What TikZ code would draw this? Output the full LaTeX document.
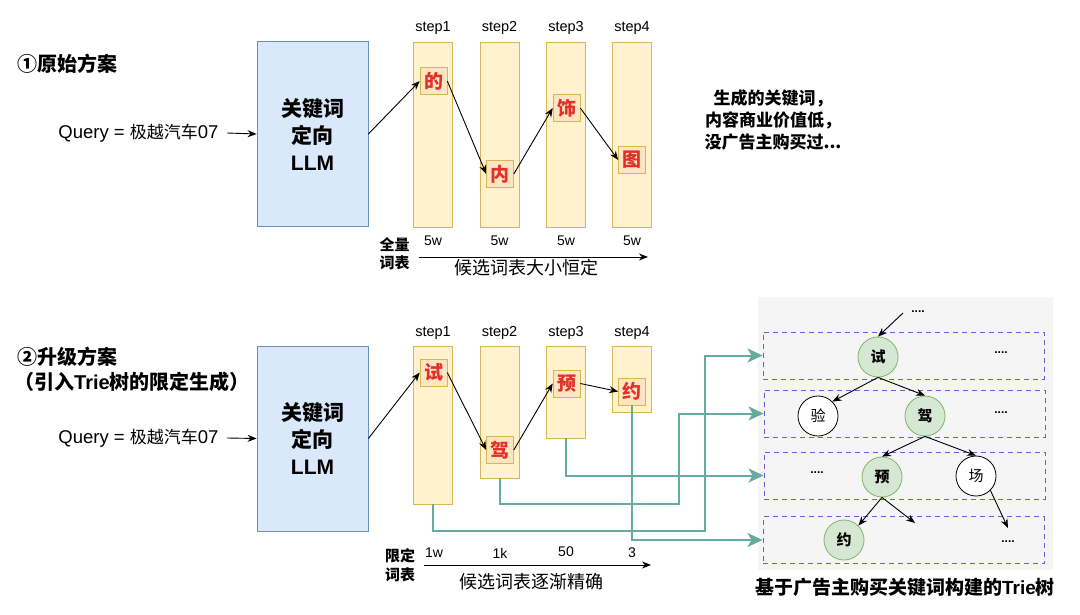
\documentclass[tikz,border=0pt]{standalone}
\usepackage{fontspec}
\setmainfont{Liberation Sans}
\newfontfamily\cjk{Noto Sans CJK SC}
\usetikzlibrary{arrows.meta}
\definecolor{llmfill}{HTML}{DAE8FC}
\definecolor{llmdraw}{HTML}{6C8EBF}
\definecolor{colfill}{HTML}{FFF2CC}
\definecolor{coldraw}{HTML}{D6B656}
\definecolor{chfill}{HTML}{FCE6C2}
\definecolor{chred}{HTML}{E2302A}
\definecolor{gline}{HTML}{67AB9F}
\definecolor{tgfill}{HTML}{D5E8D4}
\definecolor{tgdraw}{HTML}{82B366}
\definecolor{panel}{HTML}{F5F5F5}
\definecolor{rowdash}{HTML}{6A5FD8}
\newcommand\fsz[2]{\fontsize{#1}{#2}\selectfont}
\begin{document}
\begin{tikzpicture}[x=1pt,y=-1pt,
  llm/.style={draw=llmdraw,fill=llmfill,line width=0.8pt,minimum width=111pt,minimum height=185pt,align=center,font=\cjk\bfseries\fsz{21}{27}},
  col/.style={draw=coldraw,fill=colfill,line width=0.8pt,minimum width=39pt,inner sep=0pt},
  chbox/.style={draw=coldraw,fill=chfill,line width=0.6pt,minimum size=27pt,inner sep=0pt,text=chred,font=\cjk\bfseries\fsz{19}{20}},
  steplab/.style={font=\fsz{14.5}{16}},
  vallab/.style={font=\fsz{14}{16}},
  query/.style={anchor=east,font=\fsz{18.5}{20}},
  arr/.style={line width=0.9pt,-{Stealth[length=9pt,width=7pt]}},
  garr/.style={draw=gline,line width=2pt,-{Stealth[length=15pt,width=14pt,inset=4pt]}},
  row/.style={draw=rowdash,dashed,line width=0.9pt,dash pattern=on 5pt off 4pt,minimum width=281pt,minimum height=47pt},
  tg/.style={circle,draw=tgdraw,fill=tgfill,line width=0.8pt,minimum size=40pt,inner sep=0pt,font=\cjk\bfseries\fsz{15}{16}},
  tw/.style={circle,draw=black,fill=white,line width=0.8pt,minimum size=40pt,inner sep=0pt,font=\cjk\fsz{15}{16}},
  dots/.style={font=\bfseries\fsz{12}{12},inner sep=1pt},
  tarr/.style={line width=0.9pt,-{Stealth[length=9pt,width=7pt]}}
]
\useasboundingbox (0,0) rectangle (1080,615);
\fill[white] (0,0) rectangle (1080,615);

% ---------- Section 1 ----------
\node[anchor=west,font=\cjk\bfseries\fsz{20}{24},inner sep=0pt] (t1) at (17,64) {①原始方案};
\node[llm] (llm1) at (312.5,134) {关键词\\定向\\{\rmfamily LLM}};
\node[query] (q1) at (222,133) {Query = {\cjk\fsz{17}{20}极越汽车}07};
\draw[arr] ([xshift=5pt]q1.east) -- (llm1.west);

\node[col,minimum height=185pt] (a1) at (433,134.5) {};
\node[col,minimum height=185pt] (a2) at (499.5,134.5) {};
\node[col,minimum height=185pt] (a3) at (566,134.5) {};
\node[col,minimum height=185pt] (a4) at (632,134.5) {};
\node[steplab] (sa1) at (433,28) {step1};
\node[steplab] (sa2) at (499.5,28) {step2};
\node[steplab] (sa3) at (566,28) {step3};
\node[steplab] (sa4) at (632,28) {step4};

\node[chbox] (p1) at (433.5,81) {的};
\node[chbox] (p2) at (500,174) {内};
\node[chbox] (p3) at (566.5,108) {饰};
\node[chbox] (p4) at (632,160) {图};
\draw[arr] (llm1.east) -- (p1.west);
\draw[arr] (p1.east) -- (p2.west);
\draw[arr] (p2.east) -- (p3.west);
\draw[arr] (p3.east) -- (p4.west);

\node[vallab] (va1) at (433,241) {5w};
\node[vallab] (va2) at (499.5,241) {5w};
\node[vallab] (va3) at (566,241) {5w};
\node[vallab] (va4) at (632,241) {5w};
\node[align=center,font=\cjk\bfseries\fsz{15}{18}] (fa) at (394.5,254) {全量\\词表};
\coordinate (xa0) at (419,257);
\coordinate (xa1) at (648,257);
\draw[arr] (xa0) -- (xa1);
\node[font=\cjk\fsz{18}{20}] (la) at (526,268) {候选词表大小恒定};

\node[align=center,font=\cjk\bfseries\fsz{17}{22}] (note) at (773,120) {生成的关键词，\\内容商业价值低，\\没广告主购买过...};

% ---------- Trie panel ----------
\fill[panel] (758,297) rectangle (1053,570);
\node[row] (r1) at (903.5,355.5) {};
\node[row] (r2) at (904.5,413.5) {};
\node[row] (r3) at (904.5,475.5) {};
\node[row] (r4) at (903.5,540) {};

\node[tg] (n1) at (878,357) {试};
\node[tw] (n2) at (818,416) {验};
\node[tg] (n3) at (925,416) {驾};
\node[tg] (n4) at (882,477) {预};
\node[tw] (n5) at (976,476) {场};
\node[tg] (n6) at (844,540) {约};

\node[dots] (d0) at (918,312) {....};
\node[dots] (d1) at (1001,353) {....};
\node[dots] (d2) at (1001,413) {....};
\node[dots] (d3) at (817,473) {....};
\node[dots] (d4) at (1008,542) {....};
\coordinate (e0) at (903,313);
\coordinate (e1) at (915,523);
\coordinate (e2) at (1008,528);
\draw[tarr] (e0) -- (n1.north);
\draw[tarr] (n1.south) -- (n2.north east);
\draw[tarr] (n1.south) -- (n3.north);
\draw[tarr] (n3.south) -- (n4.north);
\draw[tarr] (n3.south) -- (n5.north);
\draw[tarr] (n4.south) -- (n6.north east);
\draw[tarr] (n4.south) -- (e1);
\draw[tarr] (n5.south east) -- (e2);
\node[font=\cjk\bfseries\fsz{19}{22}] (tt) at (905,587) {基于广告主购买关键词构建的{\rmfamily Trie}树};

% ---------- Section 2 ----------
\node[anchor=west,font=\cjk\bfseries\fsz{20}{24},inner sep=0pt] (t2) at (17,357) {②升级方案};
\node[anchor=west,font=\cjk\bfseries\fsz{20}{24},inner sep=0pt] (t3) at (14,382) {（引入{\rmfamily Trie}树的限定生成）};
\node[llm] (llm2) at (312.5,438.5) {关键词\\定向\\{\rmfamily LLM}};
\node[query] (q2) at (222,438) {Query = {\cjk\fsz{17}{20}极越汽车}07};
\draw[arr] ([xshift=5pt]q2.east) -- (llm2.west);

\node[col,minimum height=158pt] (b1) at (433,425) {};
\node[col,minimum height=132pt] (b2) at (499.5,412) {};
\node[col,minimum height=92pt] (b3) at (566,392) {};
\node[col,minimum height=66pt] (b4) at (632,379) {};
\node[steplab] (sb1) at (433,333) {step1};
\node[steplab] (sb2) at (499.5,333) {step2};
\node[steplab] (sb3) at (566,333) {step3};
\node[steplab] (sb4) at (632,333) {step4};

\node[chbox] (k1) at (433.5,372.5) {试};
\node[chbox] (k2) at (500,450) {驾};
\node[chbox] (k3) at (566.5,383.5) {预};
\node[chbox] (k4) at (632,391.5) {约};
\draw[arr] (llm2.east) -- (k1.west);
\draw[arr] (k1.east) -- (k2.west);
\draw[arr] (k2.east) -- (k3.west);
\draw[arr] (k3.east) -- (k4.west);

\draw[garr] (b1.south) |- (705,531) |- (r1.west);
\draw[garr] (b2.south) |- (679,504) |- (r2.west);
\draw[garr] (b3.south) |- (r3.west);
\draw[garr] (k4.south) |- (r4.west);

\node[vallab] (vb1) at (434,553) {1w};
\node[vallab] (vb2) at (500,553) {1k};
\node[vallab] (vb3) at (566,552) {50};
\node[vallab] (vb4) at (632,553) {3};
\node[align=center,font=\cjk\bfseries\fsz{15}{19}] (fb) at (400,565.5) {限定\\词表};
\coordinate (xb0) at (424,565);
\coordinate (xb1) at (651,565);
\draw[arr] (xb0) -- (xb1);
\node[font=\cjk\fsz{18}{20}] (lb) at (531,582) {候选词表逐渐精确};
\end{tikzpicture}
\end{document}
